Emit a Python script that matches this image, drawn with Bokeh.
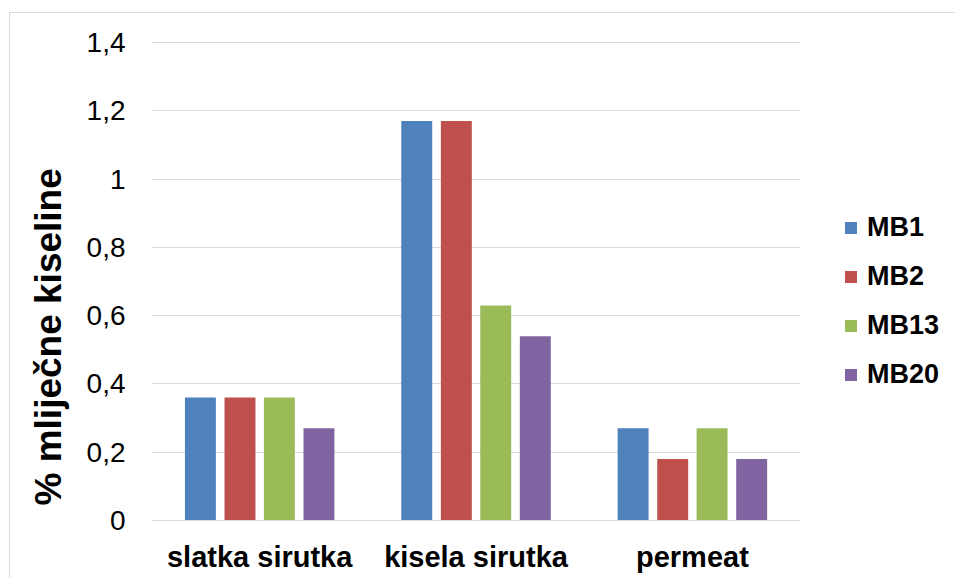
import numpy as np
from bokeh.plotting import figure
from bokeh.models import (ColumnDataSource, Range1d, FixedTicker,
                          CustomJSTickFormatter, Legend, LegendItem, Title)
from bokeh.transform import dodge
from bokeh.embed import file_html
from bokeh.resources import INLINE

categories = ["slatka sirutka", "kisela sirutka", "permeat"]
series_names = ["MB1", "MB2", "MB13", "MB20"]
mb1 = [0.36, 1.17, 0.27]
mb2 = [0.36, 1.17, 0.18]
mb13 = [0.36, 0.63, 0.27]
mb20 = [0.27, 0.54, 0.18]
y_ticks = [0, 0.2, 0.4, 0.6, 0.8, 1.0, 1.2, 1.4]
y_title = "% mliječne kiseline"

colors = ["#4F81BD", "#C0504D", "#9BBB59", "#8064A2"]
offsets = [-0.274, -0.091, 0.091, 0.274]
bar_w = 0.143

n_cat = len(categories)
xpos = list(np.arange(n_cat) + 0.5)
src = ColumnDataSource(data=dict(x=xpos, MB1=mb1, MB2=mb2, MB13=mb13, MB20=mb20))

# extra room on the right of the category area holds the legend
p = figure(x_range=Range1d(0, n_cat * 1.231), y_range=Range1d(0, 1.403),
           width=946, height=566, output_backend="svg", toolbar_location=None,
           min_border_left=141, min_border_right=6, min_border_top=28, min_border_bottom=59)
p.margin = (12, 0, 0, 9)
p.styles = {"border-left": "1px solid #D9D9D9", "border-top": "1px solid #D9D9D9"}
p.outline_line_color = None

renderers = []
for name, col, off in zip(series_names, colors, offsets):
    r = p.vbar(x=dodge("x", off), top=name, width=bar_w, source=src,
               fill_color=col, line_color=None)
    renderers.append(r)

p.xgrid.grid_line_color = None
p.ygrid.grid_line_color = "#D9D9D9"
p.ygrid.grid_line_width = 1
p.ygrid.cross_bounds = (0, n_cat)

p.yaxis.ticker = FixedTicker(ticks=y_ticks)
p.yaxis.formatter = CustomJSTickFormatter(code="return tick.toFixed(1).replace(/\\.0$/, '').replace('.', ',');")
p.yaxis.axis_line_color = None
p.yaxis.major_tick_line_color = None
p.yaxis.minor_tick_line_color = None
p.yaxis.major_label_text_font = "Liberation Sans"
p.yaxis.major_label_text_font_size = "28px"
p.yaxis.major_label_text_color = "#000000"
p.yaxis.major_label_standoff = 20

p.xaxis.ticker = FixedTicker(ticks=xpos)
p.xaxis.formatter = CustomJSTickFormatter(args=dict(labels=categories),
                                          code="return labels[Math.floor(tick)];")
p.xaxis.bounds = (0, n_cat)
p.xaxis.axis_line_color = "#D9D9D9"
p.xaxis.axis_line_width = 1
p.xaxis.major_tick_line_color = None
p.xaxis.minor_tick_line_color = None
p.xaxis.major_label_text_font = "Liberation Sans"
p.xaxis.major_label_text_font_style = "bold"
p.xaxis.major_label_text_font_size = "29px"
p.xaxis.major_label_text_color = "#000000"
p.xaxis.major_label_standoff = 14

t = Title(text=y_title, align="left", offset=15, text_font="Liberation Sans",
          text_font_size="37px", text_font_style="bold", text_color="#000000", standoff=30)
p.add_layout(t, "left")

legend = Legend(items=[LegendItem(label=n, renderers=[r]) for n, r in zip(series_names, renderers)],
                location=(692, 130), orientation="vertical",
                label_text_font="Liberation Sans", label_text_font_style="bold",
                label_text_font_size="27px", label_text_color="#000000",
                glyph_width=15, glyph_height=15, label_standoff=9, label_height=30,
                spacing=18, padding=0, margin=0, border_line_color=None,
                background_fill_alpha=0)
p.add_layout(legend, "center")

open("out.html", "w").write(file_html(p, INLINE))
